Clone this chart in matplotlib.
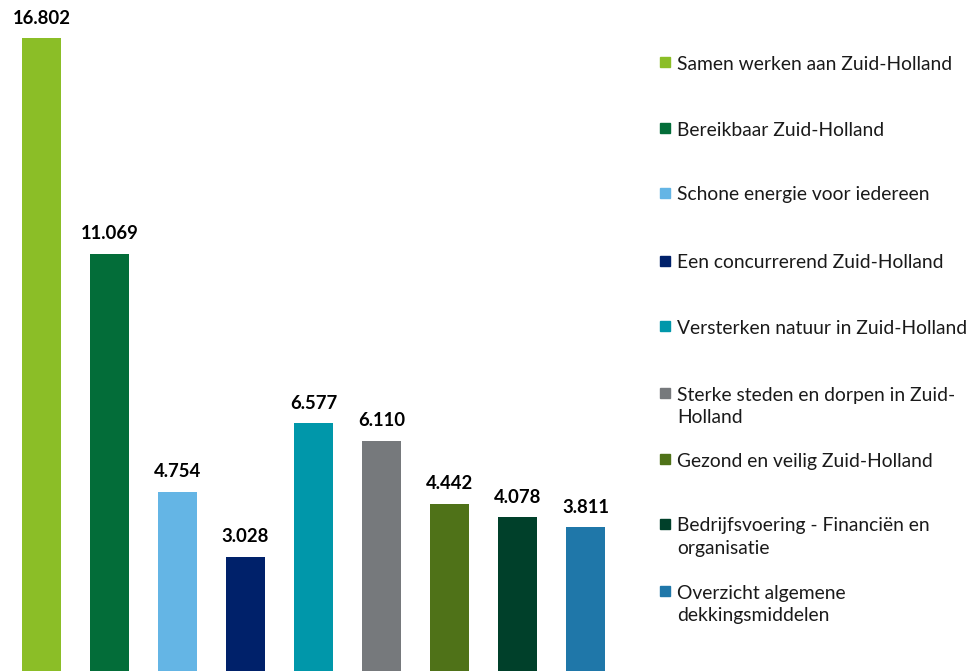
import matplotlib
matplotlib.use("Agg")
import matplotlib.pyplot as plt
from matplotlib.patches import Rectangle

categories = [
    "Samen werken aan Zuid-Holland",
    "Bereikbaar Zuid-Holland",
    "Schone energie voor iedereen",
    "Een concurrerend Zuid-Holland",
    "Versterken natuur in Zuid-Holland",
    "Sterke steden en dorpen in Zuid-\nHolland",
    "Gezond en veilig Zuid-Holland",
    "Bedrijfsvoering - Financiën en\norganisatie",
    "Overzicht algemene\ndekkingsmiddelen",
]
values = [16802, 11069, 4754, 3028, 6577, 6110, 4442, 4078, 3811]
colors = ["#8BBE27", "#036D39", "#64B5E5", "#00216A", "#0097AA",
          "#76797C", "#4F7218", "#00402A", "#1F77A9"]

W, H = 971, 671
DPI = 100
plt.rcParams['font.family'] = ['Lato', 'DejaVu Sans']
fig = plt.figure(figsize=(W / DPI, H / DPI), dpi=DPI)

# axes in pixel coordinates
ax_left, ax_w = 0, 640
ax = fig.add_axes([ax_left / W, 0, ax_w / W, 1])
pitch = 68.0
first_center = 41.5
a = -first_center / pitch
ax.set_xlim(a, a + ax_w / pitch)
ax.set_ylim(0, 17820)
x = list(range(len(values)))
bars = ax.bar(x, values, width=39 / pitch, color=colors)
for xi, v in zip(x, values):
    s = f"{v:,}".replace(",", ".")
    ax.annotate(s, (xi, v), xytext=(0, 8.5), textcoords="offset points",
                ha="center", va="bottom", fontsize=13.3, fontweight="bold",
                color="#000000")
ax.axis("off")

# legend
ys = [62, 128, 193, 261, 326, 393, 459, 524, 591]
for lab, c, yp in zip(categories, colors, ys):
    fig.patches.append(Rectangle((660 / W, 1 - (yp + 5) / H), 10 / W, 10 / H,
                                 transform=fig.transFigure, color=c))
    fig.text(677 / W, 1 - (yp - 6.5) / H, lab, ha="left", va="top",
             fontsize=13.9, color="#1a1a1a", linespacing=1.42)

fig.savefig("out.png", dpi=DPI)
